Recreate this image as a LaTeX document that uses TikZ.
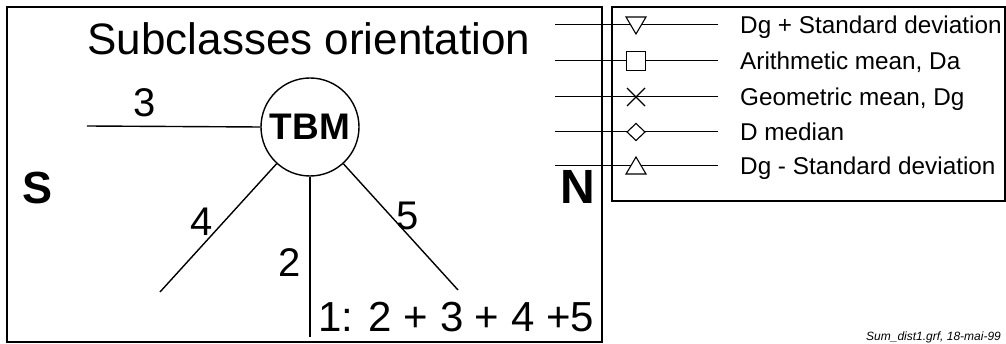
\documentclass[tikz,border=0pt]{standalone}
\usepackage{fontspec}
\setmainfont{Liberation Sans}
\begin{document}
\begin{tikzpicture}[x=1pt,y=1pt,
  ln/.style={line width=1.4pt,black},
  lbl/.style={inner sep=0pt,font=\fontsize{40}{46}\selectfont},
  big/.style={inner sep=0pt,font=\fontsize{44}{50}\selectfont\bfseries},
  leg/.style={inner sep=0pt,anchor=base west,font=\fontsize{24.3}{29}\selectfont},
  legline/.style={line width=1pt},
  sym/.style={line width=1.1pt,fill=white}]
\useasboundingbox (0,0) rectangle (1006,-344);
% frames
\draw[ln] (7,-7) rectangle (602,-342);
\draw[line width=1.1pt] (612,-7) rectangle (1005,-201);
% title
\node[inner sep=0pt,anchor=base,font=\fontsize{44}{50}\selectfont] (title) at (309,-55) {Subclasses orientation};
% TBM
\node[draw,circle,ln,minimum size=98pt,inner sep=0pt,font=\fontsize{37}{42}\selectfont\bfseries] (tbm) at (310,-127) {TBM};
\coordinate (e3) at (87,-126);
\coordinate (e4) at (160,-292);
\coordinate (e2) at (310,-337);
\coordinate (e5) at (458,-290);
\draw[ln] (e3) -- (tbm.west);
\draw[ln] (tbm) -- (e4);
\draw[ln] (tbm.south) -- (e2);
\draw[ln] (tbm) -- (e5);
\node[lbl] (l3) at (145,-103) {3};
\node[lbl] (l4) at (202,-222) {4};
\node[lbl] (l2) at (290,-263) {2};
\node[lbl] (l5) at (408,-216) {5};
\node[inner sep=0pt,anchor=base west,font=\fontsize{42}{48}\selectfont] (sum) at (318,-331) {1: 2 + 3 + 4 +5};
\node[big,font=\fontsize{45}{50}\selectfont\bfseries] (S) at (38,-188) {S};
\node[big,font=\fontsize{48}{54}\selectfont\bfseries] (N) at (578,-187) {N};
% legend lines
\foreach \y/\n in {24.5/a,61/b,97/c,132/d,166/e}{
  \coordinate (ls\n) at (555,-\y);
  \coordinate (le\n) at (718,-\y);
  \draw[legline] (ls\n) -- (le\n);
}
% symbols
\draw[sym] (626,-17) -- (646,-17) -- (636,-34) -- cycle;
\draw[sym] (626.5,-51.5) rectangle (645.5,-70.5);
\draw[sym,fill=none] (627,-88) -- (645,-106) (627,-106) -- (645,-88);
\draw[sym] (627,-132) -- (636,-123.5) -- (645,-132) -- (636,-140.5) -- cycle;
\draw[sym] (626,-174) -- (646,-174) -- (636,-157) -- cycle;
% legend texts
\node[leg] (ta) at (740,-33.5) {Dg + Standard deviation};
\node[leg] (tb) at (740,-70) {Arithmetic mean, Da};
\node[leg] (tc) at (740,-106) {Geometric mean, Dg};
\node[leg] (td) at (740,-141) {D median};
\node[leg] (te) at (740,-175) {Dg - Standard deviation};
% footer
\node[inner sep=0pt,anchor=base west,font=\fontsize{12}{14}\selectfont\itshape] (foot) at (866,-341) {Sum\_dist1.grf, 18-mai-99};
\end{tikzpicture}
\end{document}
